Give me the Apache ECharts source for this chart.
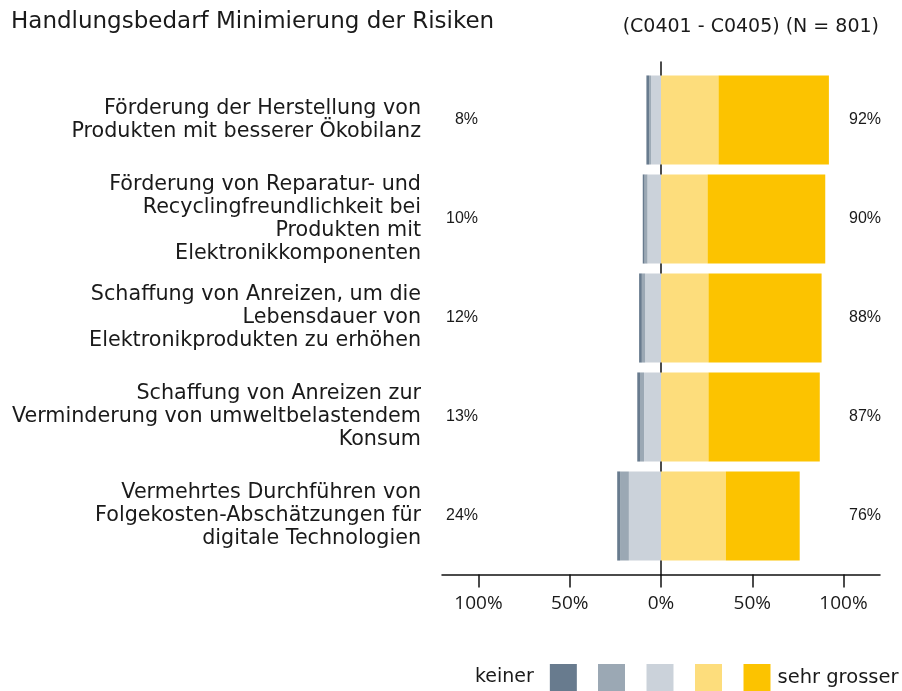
<!DOCTYPE html>
<html>
<head>
<meta charset="utf-8">
<script src="https://cdn.jsdelivr.net/npm/echarts@6/dist/echarts.min.js"></script>
<style>
html,body{margin:0;padding:0;background:#fff;}
#chart{width:902px;height:691px;}
</style>
</head>
<body>
<div id="chart"></div>
<script>
var categories = [
  'Förderung der Herstellung von\nProdukten mit besserer Ökobilanz',
  'Förderung von Reparatur- und\nRecyclingfreundlichkeit bei\nProdukten mit\nElektronikkomponenten',
  'Schaffung von Anreizen, um die\nLebensdauer von\nElektronikprodukten zu erhöhen',
  'Schaffung von Anreizen zur\nVerminderung von umweltbelastendem\nKonsum',
  'Vermehrtes Durchführen von\nFolgekosten-Abschätzungen für\ndigitale Technologien'
];
var keiner = [1.5, 1.0, 1.5, 1.5, 1.6];
var wenig = [1.0, 1.6, 1.8, 2.2, 4.8];
var mittel = [5.5, 7.4, 8.7, 9.3, 17.6];
var gross = [31.5, 25.5, 26.0, 26.0, 35.5];
var sehrGrosser = [60.5, 64.5, 62.0, 61.0, 40.5];
var leftPct = ['8%', '10%', '12%', '13%', '24%'];
var rightPct = ['92%', '90%', '88%', '87%', '76%'];
var axisTicks = [-100, -50, 0, 50, 100];

var colors = {
  keiner: '#687b8e',
  wenig: '#9ba8b4',
  mittel: '#cbd2da',
  gross: '#fddd7c',
  sehr: '#fcc300'
};
var FONT = 'DejaVu Sans';
function neg(a){ return a.map(function(v){ return -v; }); }

var chart = echarts.init(document.getElementById('chart'), null, {renderer: 'canvas'});
var option = {
  animation: false,
  backgroundColor: '#fff',
  title: [
    {text: 'Handlungsbedarf Minimierung der Risiken', left: 6, top: 6,
     textStyle: {fontFamily: FONT, fontSize: 23, fontWeight: 'normal', color: '#1a1a1a'}},
    {text: '(C0401 - C0405) (N = 801)', right: 18, top: 13,
     textStyle: {fontFamily: FONT, fontSize: 19, fontWeight: 'normal', color: '#1a1a1a'}}
  ],
  legend: [
    {data: ['keiner'], left: 470, top: 659, itemWidth: 27, itemHeight: 27, align: 'right',
     icon: 'rect', selectedMode: false,
     textStyle: {fontFamily: FONT, fontSize: 19, color: '#1a1a1a', padding: [0, 11, 0, 0]}},
    {data: ['wenig', 'mittel', 'gross', 'sehr grosser'], left: 593, top: 659, width: 330,
     itemWidth: 27, itemHeight: 27, itemGap: 21.5, icon: 'rect', selectedMode: false,
     formatter: function(n){ return n === 'sehr grosser' ? n : ''; },
     textStyle: {fontFamily: FONT, fontSize: 19.5, color: '#1a1a1a', padding: [0, 0, 0, 2]}}
  ],
  grid: [
    {left: 442, right: 22, top: 70.5, bottom: 125.5, containLabel: false},
    {left: 442, right: 22, top: 62, bottom: 116, containLabel: false}
  ],
  xAxis: [
    {type: 'value', gridIndex: 0, min: -120, max: 120, offset: 9,
     axisLine: {show: true, lineStyle: {color: '#111', width: 1.5}},
     axisTick: {show: true, customValues: axisTicks, length: 13, lineStyle: {color: '#111', width: 1.5}},
     axisLabel: {show: true, customValues: axisTicks, margin: 20,
       formatter: function(v){ return Math.abs(v) + '%'; },
       fontFamily: 'Open Sans', fontSize: 19, color: '#1a1a1a'},
     splitLine: {show: false}},
    {type: 'value', gridIndex: 1, min: -120, max: 120, show: false}
  ],
  yAxis: [
    {type: 'category', gridIndex: 0, data: categories, inverse: true,
     axisLine: {show: false}, axisTick: {show: false},
     axisLabel: {margin: 21, fontFamily: FONT, fontSize: 20.7, lineHeight: 23, color: '#1a1a1a', align: 'right'}},
    {type: 'category', gridIndex: 0, data: leftPct, inverse: true, position: 'left', offset: -36,
     axisLine: {show: false}, axisTick: {show: false},
     axisLabel: {margin: 0, fontFamily: 'Liberation Sans', fontSize: 16, color: '#1a1a1a'}},
    {type: 'category', gridIndex: 0, data: rightPct, inverse: true, position: 'right',
     axisLine: {show: false}, axisTick: {show: false},
     axisLabel: {inside: true, margin: -1, fontFamily: 'Liberation Sans', fontSize: 16, color: '#1a1a1a'}},
    {type: 'category', gridIndex: 1, data: categories,
     axisLine: {show: true, onZero: true, lineStyle: {color: '#111', width: 1.5}},
     axisTick: {show: false}, axisLabel: {show: false}}
  ],
  series: [
    {name: 'mittel', type: 'bar', stack: 'all', xAxisIndex: 0, yAxisIndex: 0, data: neg(mittel),
     barCategoryGap: '10%', itemStyle: {color: colors.mittel}, z: 2},
    {name: 'wenig', type: 'bar', stack: 'all', xAxisIndex: 0, yAxisIndex: 0, data: neg(wenig),
     barCategoryGap: '10%', itemStyle: {color: colors.wenig}, z: 2},
    {name: 'keiner', type: 'bar', stack: 'all', xAxisIndex: 0, yAxisIndex: 0, data: neg(keiner),
     barCategoryGap: '10%', itemStyle: {color: colors.keiner}, z: 2},
    {name: 'gross', type: 'bar', stack: 'all', xAxisIndex: 0, yAxisIndex: 0, data: gross,
     barCategoryGap: '10%', itemStyle: {color: colors.gross}, z: 2},
    {name: 'sehr grosser', type: 'bar', stack: 'all', xAxisIndex: 0, yAxisIndex: 0, data: sehrGrosser,
     barCategoryGap: '10%', itemStyle: {color: colors.sehr}, z: 2}
  ]
};
chart.setOption(option);
</script>
</body>
</html>
